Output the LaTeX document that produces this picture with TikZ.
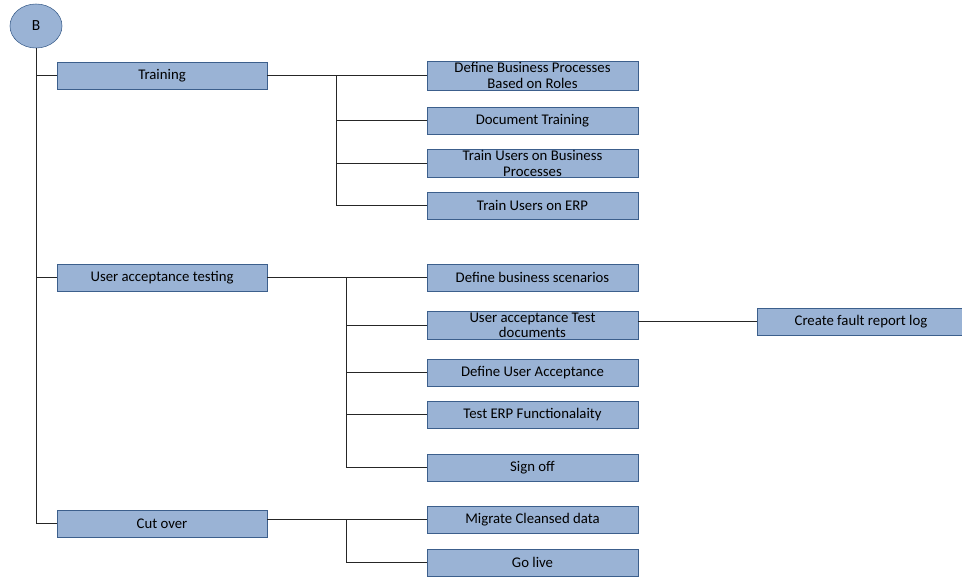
\documentclass[tikz,border=0pt]{standalone}
\usepackage{fontspec}
\setmainfont{Carlito}
\usetikzlibrary{positioning}
\usetikzlibrary{shapes.geometric}
\definecolor{boxfill}{HTML}{9AB3D5}
\definecolor{boxline}{HTML}{3C5F8C}

\begin{document}
\begin{tikzpicture}[x=0.025cm, y=-0.025cm,
startnode/.style={ellipse, draw=boxline, fill=boxfill, thin, minimum width=1.3cm, minimum height=1.1cm, font=\fontsize{11}{12}\selectfont},
phasenode/.style={rectangle, draw=boxline, fill=boxfill, thin, minimum width=5.25cm, minimum height=0.675cm, inner sep=1pt, align=center, font=\fontsize{10.5}{11}\selectfont},
tasknode/.style={phasenode, minimum width=5.275cm},
link/.style={draw=black!85, thin},
]
\useasboundingbox (0,0) rectangle (962,577);
%Nodes
\node[startnode]    (b)        at (36,26)      {B};
\node[phasenode]    (train)    at (162,75.5)   {Training};
\node[phasenode]    (uat)      at (162,277.5)  {User acceptance testing};
\node[phasenode]    (cut)      at (162,523.5)  {Cut over};

\node[tasknode]     (defbp)    at (532.5,75.5)  {Define Business Processes\\Based on Roles};
\node[tasknode]     (doctr)    at (532.5,120.5) {Document Training};
\node[tasknode]     (trainbp)  at (532.5,163.5) {Train Users on Business\\Processes};
\node[tasknode]     (trainerp) at (532.5,205.5) {Train Users on ERP};

\node[tasknode]     (defscen)  at (532.5,277.5) {Define business scenarios};
\node[tasknode]     (uatdoc)   at (532.5,325.5) {User acceptance Test\\documents};
\node[tasknode]     (defacc)   at (532.5,372.5) {Define User Acceptance};
\node[tasknode]     (testerp)  at (532.5,414.5) {Test ERP Functionalaity};
\node[tasknode]     (signoff)  at (532.5,467.5) {Sign off};
\node[phasenode, minimum width=5.2cm] (fault) at (861,321.5) {Create fault report log};

\node[tasknode]     (migrate)  at (532.5,519.5) {Migrate Cleansed data};
\node[tasknode]     (golive)   at (532.5,562.5) {Go live};

%Branch points
\coordinate (tbr) at (336,75.5);
\coordinate (ubr) at (346,277.5);
\coordinate (cbr) at (346,519.5);

%Lines
\draw[link] (b.south) |- (train.west);
\draw[link] (b.south) |- (uat.west);
\draw[link] (b.south) |- (cut.west);

\draw[link] (train.east) -- (defbp.west);
\draw[link] (tbr) |- (doctr.west);
\draw[link] (tbr) |- (trainbp.west);
\draw[link] (tbr) |- (trainerp.west);

\draw[link] (uat.east) -- (defscen.west);
\draw[link] (ubr) |- (uatdoc.west);
\draw[link] (ubr) |- (defacc.west);
\draw[link] (ubr) |- (testerp.west);
\draw[link] (ubr) |- (signoff.west);
\draw[link] (uatdoc.east |- fault.west) -- (fault.west);

\draw[link] (cut.east |- migrate.west) -- (migrate.west);
\draw[link] (cbr) |- (golive.west);
\end{tikzpicture}
\end{document}
